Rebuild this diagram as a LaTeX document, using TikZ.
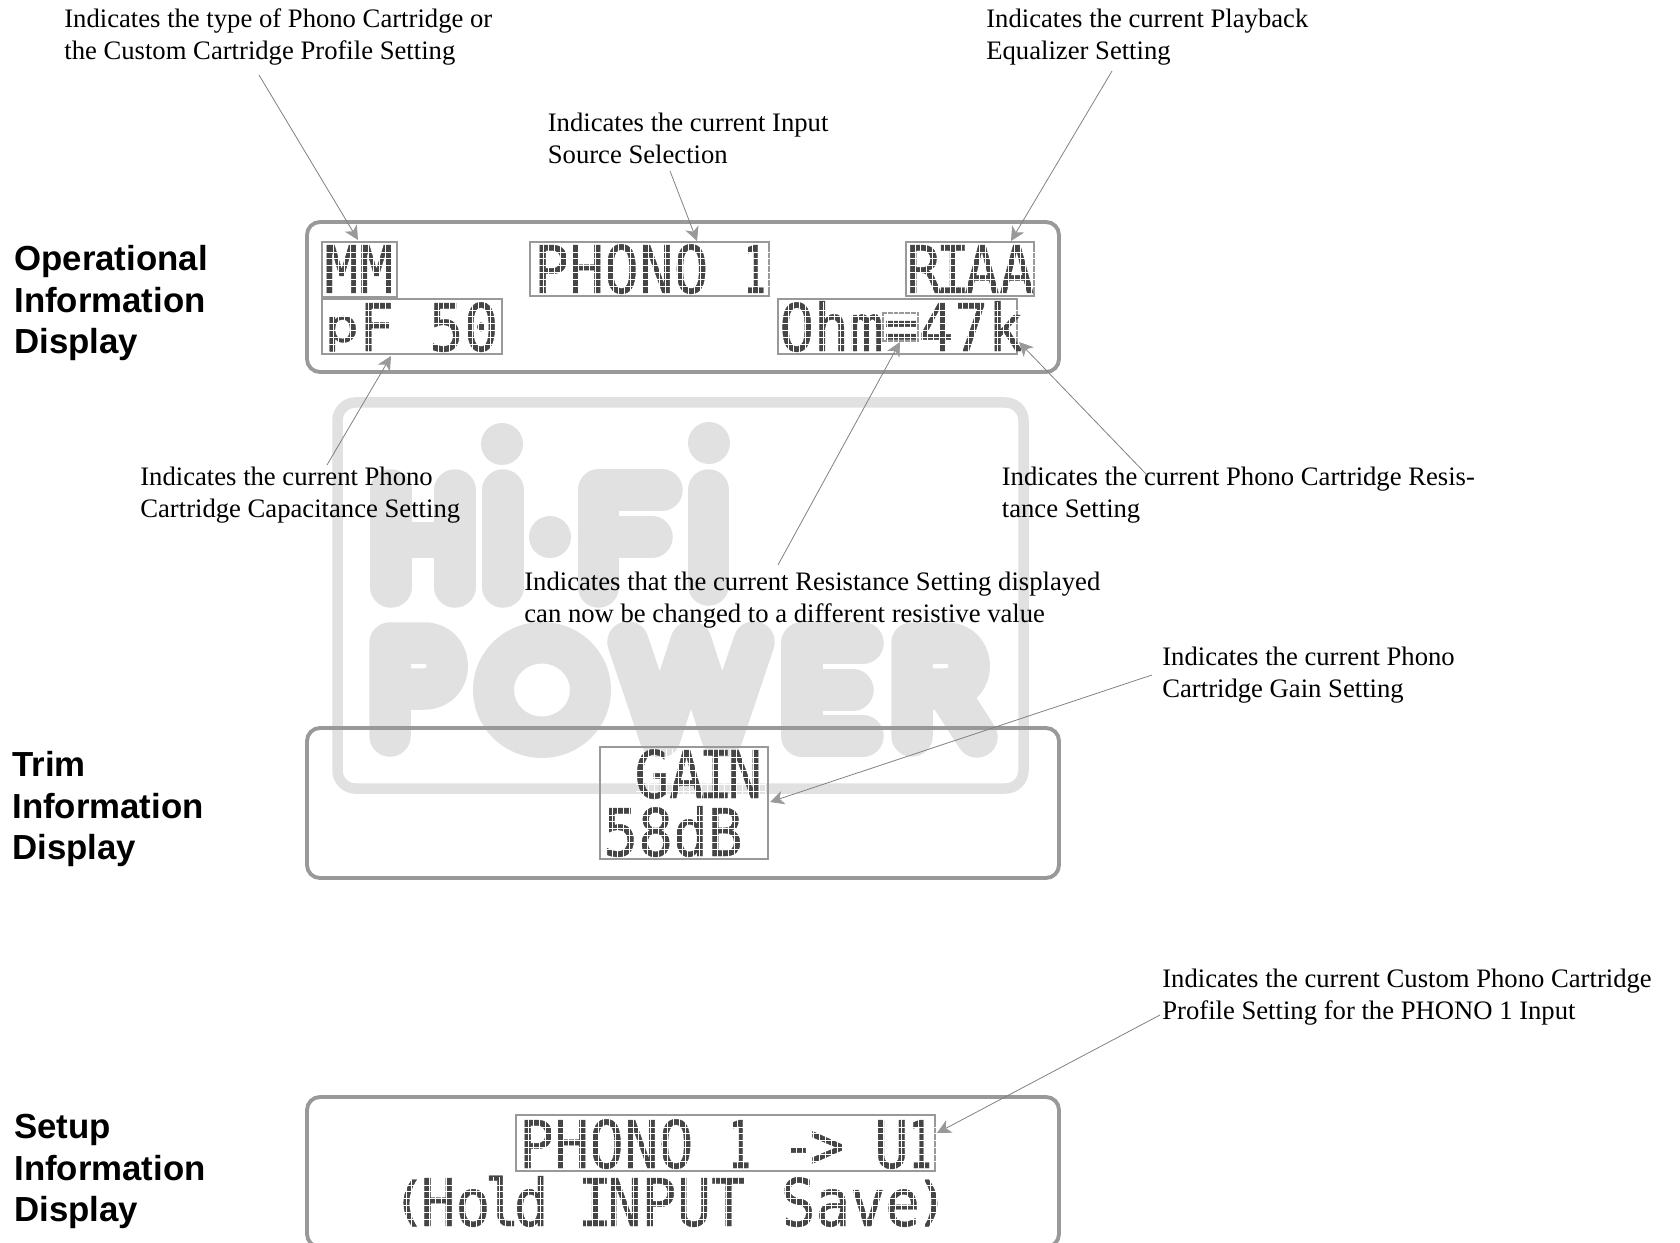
\documentclass[tikz,border=0pt]{standalone}
\usepackage{fontspec}
\usepackage{graphicx}
\usepackage{tikz}
\usetikzlibrary{arrows.meta, calc}
\setmainfont{Liberation Serif}
\newfontfamily\headfont{Liberation Sans}
\newfontfamily\lcdfont[FakeStretch=0.88, FakeBold=0.6]{DejaVu Sans Mono}
\definecolor{frameGray}{HTML}{999999}
\definecolor{lineGray}{HTML}{808080}
\definecolor{lcdDark}{HTML}{454545}
\definecolor{logoGray}{HTML}{E1E1E1}
\newcommand{\nrw}[1]{\makebox[4.67mm][c]{#1}}
\newcommand{\lowp}{\raisebox{.14em}{\scalebox{1}[.7]{p}}}
\newcommand{\slimone}{\makebox[7mm][l]{\scalebox{.65}[1]{1}}}
\newcommand{\paren}[1]{\nrw{\raisebox{.1em}{\scalebox{1}[.8]{#1}}}}
% reference pixels: 1px = 0.2mm, y runs downwards
\begin{document}
\begin{tikzpicture}[x=0.2mm, y=-0.2mm,
  note/.style={font=\fontsize{15.17pt}{18.1pt}\selectfont, align=left, anchor=north west, inner sep=0pt},
  head/.style={font=\headfont\bfseries\fontsize{19.8pt}{23.6pt}\selectfont, align=left, anchor=north west, inner sep=0pt},
  panel/.style={draw=frameGray, line width=2.2pt, rounded corners=2.6mm},
  lcdbox/.style={draw=frameGray, line width=0.8pt, anchor=north west, inner sep=0pt, outer sep=0pt},
  lcdtext/.style={font=\lcdfont\fontsize{37.4pt}{37.4pt}\selectfont, text=lcdDark, anchor=base west, inner sep=0pt},
  callout/.style={draw=lineGray, line width=0.45pt, -{Stealth[length=2.8mm, width=2.8mm, inset=0.8mm, color=frameGray]}},
  logo/.style={draw=logoGray, line width=8.3mm, line cap=round, line join=round},
]
  \useasboundingbox (0,0) rectangle (1680,1243);
  \clip (0,0) rectangle (1680,1243);
  % logo behind the displays
  \draw[logoGray, line width=2.1mm, rounded corners=3.6mm] (337.5,402.5) rectangle (1023.5,788.5);
  \foreach \x/\y in {502/444, 550/537, 709/443}{
    \fill[logoGray] (\x,\y) circle [radius=21];
  }
  % HI-FI
  \draw[logo] (391,490) -- (391,587);
  \draw[logo] (455,490) -- (455,587);
  \fill[logoGray] (391,522) rectangle (455,558);
  \draw[logo] (503,490) -- (503,587);
  \draw[logo] (598.5,587) -- (598.5,490) -- (662,490);
  \draw[logo] (598.5,537) -- (652,537);
  \draw[logo] (708.5,490) -- (708.5,585);
  % POWER
  \draw[logo] (390,736) -- (390,643) -- (424,643) .. controls (455,643) and (455,689) .. (424,689) -- (390,689);
  \fill[logoGray, even odd rule] (542,690) ellipse [x radius=69, y radius=68]
    (542,690) ellipse [x radius=28, y radius=26.5];
  \draw[logo] (628,642) -- (660,737) -- (691,642) -- (722,737) -- (754,642);
  \draw[logo] (863,643) -- (802,643) -- (802,736) -- (863,736);
  \draw[logo] (802,690) -- (853,690);
  \draw[logo] (912,736) -- (912,643) -- (946,643) .. controls (977,643) and (977,689) .. (946,689) -- (912,689);
  \draw[logo] (946,689) -- (977,737);
  % the three displays
  \draw[panel] (307,222) rectangle (1059,372);
  \draw[panel] (307,728) rectangle (1059,878);
  \draw[panel] (307,1097) rectangle (1059,1247);
  % thin frames round the fields
  \foreach \n/\x/\y/\w/\h in {MM/322/242/75/55, Phono/530/242/239/54, RIAA/906/242/128/54,
      PF/322/299/180/55, Ohm/778/299/239/55, Eq/883/313/35/28, Gain/600/747/168/112, Setup/516/1115/419/56}{
    \node[lcdbox, minimum width=\w*0.2mm, minimum height=\h*0.2mm] (box\n) at (\x,\y) {};
  }
  % display text
  \node[lcdtext] (txtMM) at (324,293) {MM};
  \node[lcdtext] (txtPhono) at (534,293) {PHONO \slimone};
  \node[lcdtext] (txtRIAA) at (906,293) {R\nrw{I}AA};
  \node[lcdtext] (txtPF) at (324,351) {\lowp F 50};
  \node[lcdtext] (txtOhm) at (779,351) {Ohm=47k};
  \node[lcdtext] (txtGain) at (634,798) {GA\nrw{I}N};
  \node[lcdtext] (txt58) at (603,856) {58dB};
  \node[lcdtext] (txtSetup) at (519,1168) {PHONO \slimone\nrw{ }\nrw{-}\makebox[5.83mm][l]{>}\makebox[7mm]{ }U\slimone};
  \node[lcdtext] (txtHold) at (397,1226) {\paren{(}Ho\nrw{l}d \nrw{I}NPUT Save\paren{)}};
  % dot raster over the display text
  \foreach \x/\y/\c in {327/293/11, 537/293/41, 909/293/22, 327/351/29, 782/351/41, 637/798/22, 606/856/23, 522/1168/71, 400/1226/92}{
    \foreach \i in {1,...,\c}{
      \draw[white, line width=0.3pt] ({\x+\i*5.83},\y-49) -- ++(0,50);
    }
    \foreach \j in {1,...,6}{
      \draw[white, line width=0.3pt] (\x-1,{\y-\j*6.86}) -- ++({\c*5.83+2},0);
    }
  }
  % side headings
  \node[head] (headOp) at (14,245) {Operational\\Information\\Display};
  \node[head] (headTrim) at (12,751) {Trim\\Information\\Display};
  \node[head] (headSetup) at (14,1114) {Setup\\Information\\Display};
  % notes
  \node[note] (lblType) at (64,8.5) {Indicates the type of Phono Cartridge or\\the Custom Cartridge Profile Setting};
  \node[note] (lblEq) at (986,8.5) {Indicates the current Playback\\Equalizer Setting};
  \node[note] (lblInput) at (547.5,113) {Indicates the current Input\\Source Selection};
  \node[note] (lblCap) at (140,467) {Indicates the current Phono\\Cartridge Capacitance Setting};
  \node[note] (lblOhm) at (1001.5,467) {Indicates the current Phono Cartridge Resis-\\tance Setting};
  \node[note] (lblRes) at (524,572) {Indicates that the current Resistance Setting displayed\\can now be changed to a different resistive value};
  \node[note] (lblGain) at (1162,647) {Indicates the current Phono\\Cartridge Gain Setting};
  \node[note] (lblProfile) at (1162,969) {Indicates the current Custom Phono Cartridge\\Profile Setting for the PHONO 1 Input};
  % callouts
  \draw[callout] ($(lblType.north west)+(195,66.5)$) -- ($(boxMM.north west)+(36,-2)$);
  \draw[callout] ($(lblEq.north west)+(126,62.5)$) -- ($(boxRIAA.north west)+(105,-1)$);
  \draw[callout] ($(lblInput.north west)+(122.5,58)$) -- ($(boxPhono.north west)+(167,-1)$);
  \draw[callout] ($(lblCap.north west)+(187,-2)$) -- ($(boxPF.north west)+(69,57)$);
  \draw[callout] ($(lblRes.north west)+(254,-7)$) -- ($(boxEq.north west)+(17,29)$);
  \draw[callout] ($(lblOhm.north west)+(145.5,8)$) -- ($(boxOhm.north west)+(241,43)$);
  \draw[callout] ($(lblGain.north west)+(-10,28)$) -- ($(boxGain.north west)+(170,55)$);
  \draw[callout] ($(lblProfile.north west)+(-2,46)$) -- ($(boxSetup.north west)+(421,18)$);
\end{tikzpicture}
\end{document}
